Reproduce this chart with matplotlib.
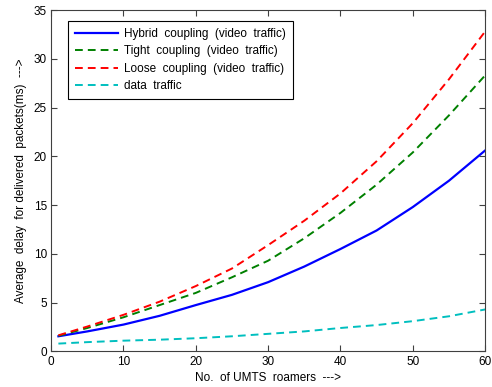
import matplotlib
matplotlib.use("Agg")
import matplotlib.pyplot as plt

# values
roamers = [1, 5, 10, 15, 20, 25, 30, 35, 40, 45, 50, 55, 60]
hybrid = [1.55, 2.05, 2.75, 3.65, 4.75, 5.8, 7.1, 8.7, 10.5, 12.4, 14.8, 17.5, 20.6]
tight = [1.6, 2.4, 3.5, 4.75, 6.0, 7.6, 9.3, 11.6, 14.2, 17.1, 20.4, 24.2, 28.3]
loose = [1.65, 2.55, 3.75, 5.1, 6.7, 8.5, 10.9, 13.4, 16.2, 19.5, 23.4, 27.9, 32.8]
data_traffic = [0.8, 0.95, 1.1, 1.2, 1.35, 1.55, 1.8, 2.05, 2.4, 2.7, 3.1, 3.6, 4.3]

plt.rcParams["font.family"] = ["Liberation Sans", "DejaVu Sans"]
plt.rcParams["font.size"] = 8.5

fig = plt.figure(figsize=(4.92, 3.87), dpi=100)
ax = fig.add_axes([0.104, 0.092, 0.882, 0.882])

ax.plot(roamers, hybrid, color="#0000ff", linewidth=1.6,
        label="Hybrid  coupling  (video  traffic)")
ax.plot(roamers, tight, color="#008000", linewidth=1.4, linestyle=(0, (4, 2.6)),
        label="Tight  coupling  (video  traffic)")
ax.plot(roamers, loose, color="#ff0000", linewidth=1.4, linestyle=(0, (4, 2.6)),
        label="Loose  coupling  (video  traffic)")
ax.plot(roamers, data_traffic, color="#00bfbf", linewidth=1.4, linestyle=(0, (4, 2.6)),
        label="data  traffic")

ax.set_xlim(0, 60)
ax.set_ylim(0, 35)
ax.set_xticks(range(0, 61, 10))
ax.set_yticks(range(0, 36, 5))
ax.tick_params(direction="in", top=True, right=True, length=4, width=0.8,
               colors="#404040", labelcolor="black", pad=3)
for s in ax.spines.values():
    s.set_color("#404040")
    s.set_linewidth(0.8)

ax.set_xlabel("No.  of UMTS  roamers  --->", labelpad=3)
ax.set_ylabel("Average  delay  for delivered  packets(ms)  --->", labelpad=5)

leg = ax.legend(loc="upper left", bbox_to_anchor=(0.039, 0.968), borderaxespad=0,
                fancybox=False, edgecolor="black", framealpha=1, handlelength=3.6,
                labelspacing=0.45, borderpad=0.6, handletextpad=0.5)
leg.get_frame().set_linewidth(0.8)

fig.savefig("out.png", dpi=100)
